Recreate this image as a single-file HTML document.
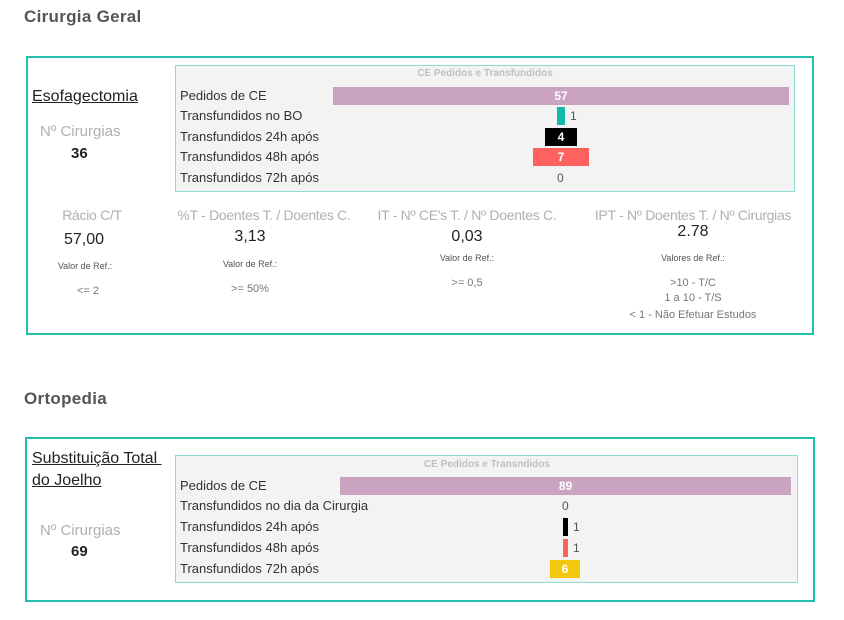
<!DOCTYPE html>
<html><head><meta charset="utf-8"><style>
body{margin:0;width:844px;height:620px;background:#fff;position:relative;overflow:hidden;font-family:"Liberation Sans",sans-serif}
.a{position:absolute;white-space:nowrap}
.box{position:absolute;border:2px solid #1fbfaa;box-sizing:border-box}
.in{position:absolute;background:#f3f3f3;border:1px solid #8fdcd2;box-sizing:border-box}
.lbl{position:absolute;font-size:13px;color:#333;left:180px;line-height:14px}
.bar{position:absolute;color:#fff;font-size:12px;font-weight:bold;text-align:center;line-height:18px}
.v{position:absolute;font-size:12px;color:#555;line-height:14px}
.t{position:absolute;font-size:14px;letter-spacing:-0.3px;color:#b0b0b0;transform:translateX(-50%);white-space:nowrap}
.n{position:absolute;font-size:16px;color:#222;transform:translateX(-50%)}
.s{position:absolute;font-size:9px;color:#555;transform:translateX(-50%);white-space:nowrap}
.r{position:absolute;font-size:11px;color:#777;transform:translateX(-50%);white-space:nowrap}
.ct{position:absolute;font-size:10px;font-weight:bold;color:#c0c0c0;transform:translateX(-50%)}
</style></head><body>
<div class="a" style="left:24px;top:7px;font-size:17px;color:#555;font-weight:bold;letter-spacing:0.3px">Cirurgia Geral</div>
<div class="box" style="left:26px;top:56px;width:788px;height:279px"></div>
<div class="in" style="left:175px;top:65px;width:620px;height:127px"></div>
<div class="ct" style="left:485px;top:68px">CE Pedidos e Transfundidos</div>
<div class="a" style="left:32px;top:88px;font-size:16px;color:#222;text-decoration:underline">Esofagectomia</div>
<div class="a" style="left:40px;top:123px;font-size:15px;color:#b0b0b0">Nº Cirurgias</div>
<div class="a" style="left:71px;top:145px;font-size:15px;font-weight:bold;color:#222">36</div>
<div class="lbl" style="top:89px">Pedidos de CE</div>
<div class="lbl" style="top:109px">Transfundidos no BO</div>
<div class="lbl" style="top:130px">Transfundidos 24h após</div>
<div class="lbl" style="top:150px">Transfundidos 48h após</div>
<div class="lbl" style="top:171px">Transfundidos 72h após</div>
<div class="bar" style="left:333px;top:87px;width:456px;height:18px;background:#c9a3c0">57</div>
<div class="bar" style="left:557px;top:107px;width:8px;height:18px;background:#13b8a6"></div>
<div class="v" style="left:570px;top:109px">1</div>
<div class="bar" style="left:545px;top:128px;width:32px;height:18px;background:#000">4</div>
<div class="bar" style="left:533px;top:148px;width:56px;height:18px;background:#fd625e">7</div>
<div class="v" style="left:557px;top:171px">0</div>
<div class="t" style="left:92px;top:207px">Rácio C/T</div>
<div class="n" style="left:84px;top:231px">57,00</div>
<div class="s" style="left:85px;top:261px">Valor de Ref.:</div>
<div class="r" style="left:88px;top:285px">&lt;= 2</div>
<div class="t" style="left:264px;top:207px">%T - Doentes T. / Doentes C.</div>
<div class="n" style="left:250px;top:228px">3,13</div>
<div class="s" style="left:250px;top:259px">Valor de Ref.:</div>
<div class="r" style="left:250px;top:283px">&gt;= 50%</div>
<div class="t" style="left:467px;top:207px">IT - Nº CE's T. / Nº Doentes C.</div>
<div class="n" style="left:467px;top:228px">0,03</div>
<div class="s" style="left:467px;top:253px">Valor de Ref.:</div>
<div class="r" style="left:467px;top:277px">&gt;= 0,5</div>
<div class="t" style="left:693px;top:207px">IPT - Nº Doentes T. / Nº Cirurgias</div>
<div class="n" style="left:693px;top:223px">2.78</div>
<div class="s" style="left:693px;top:253px">Valores de Ref.:</div>
<div class="r" style="left:693px;top:277px">&gt;10 - T/C</div>
<div class="r" style="left:693px;top:292px">1 a 10 - T/S</div>
<div class="r" style="left:693px;top:309px">&lt; 1 - Não Efetuar Estudos</div>

<div class="a" style="left:24px;top:389px;font-size:17px;color:#555;font-weight:bold;letter-spacing:0.3px">Ortopedia</div>
<div class="box" style="left:25px;top:437px;width:790px;height:165px"></div>
<div class="in" style="left:175px;top:455px;width:623px;height:128px"></div>
<div class="ct" style="left:487px;top:459px">CE Pedidos e Transndidos</div>
<div class="a" style="left:32px;top:450px;font-size:16px;color:#222;text-decoration:underline">Substituição Total&nbsp;</div>
<div class="a" style="left:32px;top:472px;font-size:16px;color:#222;text-decoration:underline">do Joelho</div>
<div class="a" style="left:40px;top:522px;font-size:15px;color:#b0b0b0">Nº Cirurgias</div>
<div class="a" style="left:71px;top:543px;font-size:15px;font-weight:bold;color:#222">69</div>
<div class="lbl" style="top:479px">Pedidos de CE</div>
<div class="lbl" style="top:499px">Transfundidos no dia da Cirurgia</div>
<div class="lbl" style="top:520px">Transfundidos 24h após</div>
<div class="lbl" style="top:541px">Transfundidos 48h após</div>
<div class="lbl" style="top:562px">Transfundidos 72h após</div>
<div class="bar" style="left:340px;top:477px;width:451px;height:18px;background:#c9a3c0">89</div>
<div class="v" style="left:562px;top:499px">0</div>
<div class="bar" style="left:563px;top:518px;width:5px;height:18px;background:#000"></div>
<div class="v" style="left:573px;top:520px">1</div>
<div class="bar" style="left:563px;top:539px;width:5px;height:18px;background:#fd625e"></div>
<div class="v" style="left:573px;top:541px">1</div>
<div class="bar" style="left:550px;top:560px;width:30px;height:18px;background:#f2c80f">6</div>
</body></html>
